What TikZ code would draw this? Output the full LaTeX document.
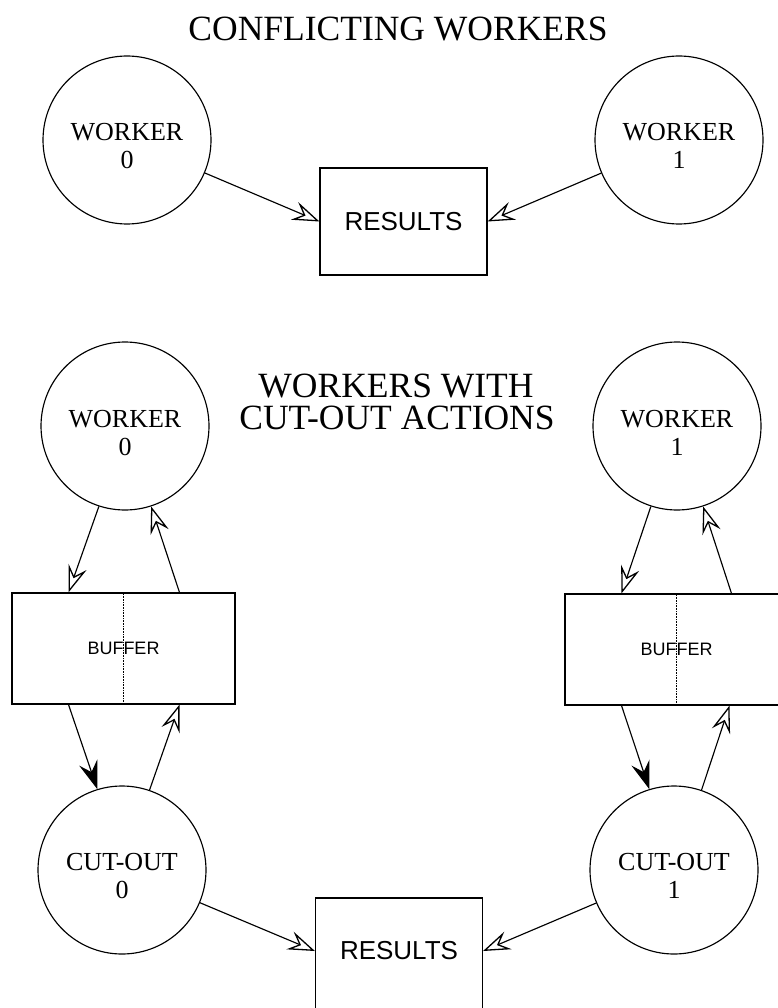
\documentclass[tikz,border=0pt]{standalone}
\usepackage{fontspec}
\setmainfont{Liberation Serif}
\newfontfamily\helv{Liberation Sans}
\usetikzlibrary{arrows.meta,calc}
\begin{document}
\begin{tikzpicture}[x=1pt,y=-1pt,
  line width=1.15pt,
  proc/.style={draw, circle, minimum size=168pt, inner sep=0pt},
  proctext/.style={anchor=north, inner sep=0pt, align=center, font=\fontsize{26}{28}\selectfont},
  store/.style={draw, rectangle, minimum width=167pt, minimum height=107pt, inner sep=0pt},
  storetext/.style={inner sep=0pt, font=\helv\fontsize{26}{30}\selectfont},
  buf/.style={draw, rectangle, minimum width=223pt, minimum height=111pt, inner sep=0pt, font=\helv\fontsize{18}{20}\selectfont},
  heading/.style={anchor=base, inner sep=0pt, font=\fontsize{35.5}{38}\selectfont},
  openarr/.style={-{Stealth[open, length=27pt, width=19pt, inset=10pt, line width=1.3pt]}},
  fillarr/.style={-{Stealth[length=28pt, width=19pt, inset=10pt]}},
]
\useasboundingbox (0,0) rectangle (778,1008);

% ---------- upper scheme: two workers writing one result ----------
\node[heading] (t1) at (398,41) {CONFLICTING WORKERS};

\node[proc] (w0) at (127,140) {};
\node[proctext] (w0t) at (127,123) {WORKER\\0};
\node[proc] (w1) at (679,140) {};
\node[proctext] (w1t) at (679,123) {WORKER\\1};

\node[store] (rT) at (403.5,221.5) {};
\node[storetext] (rTt) at (403.5,221.5) {RESULTS};

\draw[openarr] (w0) -- (rT.west);
\draw[openarr] (w1) -- (rT.east);

% ---------- lower scheme: workers with cut-out actions ----------
\node[heading] (t2a) at (396,397) {WORKERS WITH};
\node[heading] (t2b) at (397,429) {CUT-OUT ACTIONS};

\node[proc] (w0m) at (125,426) {};
\node[proctext] (w0mt) at (125,410) {WORKER\\0};
\node[proc] (w1m) at (677,426) {};
\node[proctext] (w1mt) at (677,410) {WORKER\\1};

\node[buf] (bL) at (123.5,648.5) {BUFFER};
\node[buf] (bR) at (676.5,649.5) {BUFFER};
\draw[densely dotted, line width=0.6pt] (bL.north) -- (bL.south);
\draw[densely dotted, line width=0.6pt] (bR.north) -- (bR.south);

\node[proc] (c0) at (122,870) {};
\node[proctext] (c0t) at (122,853) {CUT-OUT\\0};
\node[proc] (c1) at (674,870) {};
\node[proctext] (c1t) at (674,853) {CUT-OUT\\1};

\node[store, minimum height=118pt] (rB) at (399,957) {};
\node[storetext] (rBt) at (399,951) {RESULTS};

% attachment points on the buffer edges
\coordinate (bLtl) at ($(bL.north)+(-55,0)$);
\coordinate (bLtr) at ($(bL.north)+(56,0)$);
\coordinate (bLbl) at ($(bL.south)+(-55,0)$);
\coordinate (bLbr) at ($(bL.south)+(56,0)$);
\coordinate (bRtl) at ($(bR.north)+(-55,0)$);
\coordinate (bRtr) at ($(bR.north)+(55,0)$);
\coordinate (bRbl) at ($(bR.south)+(-55,0)$);
\coordinate (bRbr) at ($(bR.south)+(53,0)$);

\draw[openarr] (w0m.252) -- (bLtl);
\draw[openarr] (bLtr) -- (w0m.288);
\draw[fillarr] (bLbl) -- (c0.107);
\draw[openarr] (c0.71) -- (bLbr);

\draw[openarr] (w1m.252) -- (bRtl);
\draw[openarr] (bRtr) -- (w1m.288);
\draw[fillarr] (bRbl) -- (c1.107);
\draw[openarr] (c1.71) -- (bRbr);

\draw[openarr] (c0) -- (rB.west |- rBt.center);
\draw[openarr] (c1) -- (rB.east |- rBt.center);
\end{tikzpicture}
\end{document}
